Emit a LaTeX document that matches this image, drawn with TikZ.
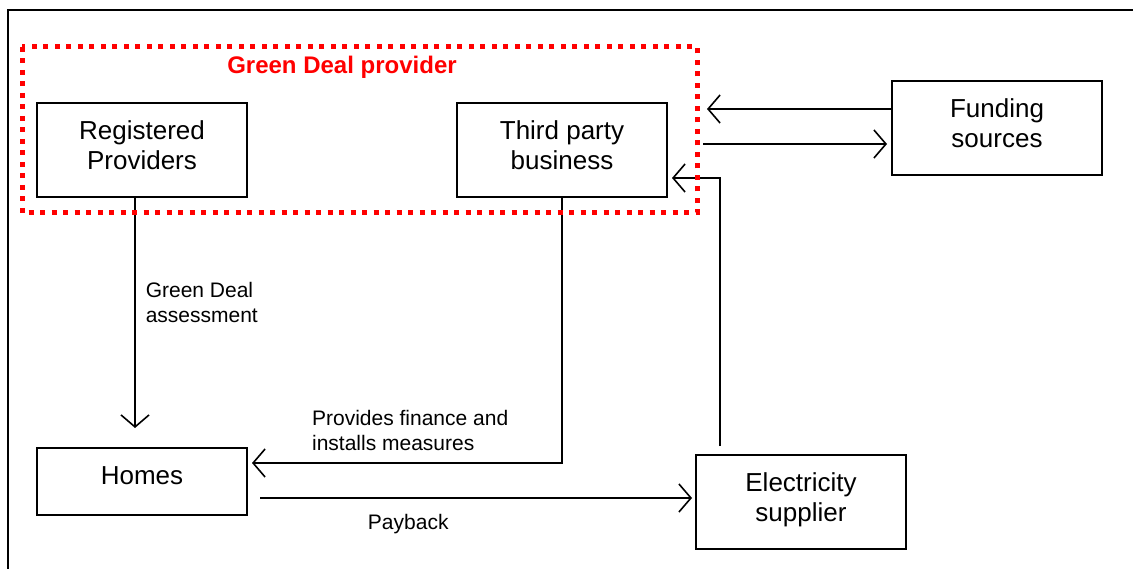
\documentclass[tikz,border=0pt]{standalone}
\usepackage{fontspec}
\setmainfont{Liberation Sans}
\usetikzlibrary{arrows.meta,positioning}
\definecolor{GDRed}{HTML}{FF0000}
\tikzset{
  party/.style={
    draw=black, line width=1.6pt, fill=white, outer sep=0pt,
    minimum width=210pt, minimum height=94pt, align=center,
    text height=49pt, text depth=10pt,
    font=\fontsize{26}{30}\selectfont
  },
  gdparea/.style={
    minimum width=675pt, minimum height=166pt, outer sep=0pt, inner sep=0pt
  },
  gdpline/.style={draw=GDRed, line width=5pt, dash pattern=on 5pt off 6.5pt},
  note/.style={font=\fontsize{21}{25}\selectfont, align=left, inner sep=0pt},
  flow/.style={-{Straight Barb[length=12pt, width=28pt]}, line width=1.6pt, draw=black}
}

\begin{document}
\begin{tikzpicture}[x=1pt, y=-1pt]
  \useasboundingbox (0,0) rectangle (1133,569);
  \draw[line width=1.6pt] (8,569) -- (8,10) -- (1133,10);
  % provider group and parties
  \node[gdparea] (gdp) at (359.5,130) {};
  \node[font=\fontsize{24}{28}\selectfont\bfseries, text=GDRed] (gdplabel) at (342,67) {Green Deal provider};
  \node[party] (reg) at (142,150) {Registered\\Providers};
  \node[party] (third) at (562,150) {Third party\\business};
  \node[party] (fund) at (997,128) {Funding\\sources};
  \node[party, minimum height=67pt, text height=19pt, text depth=14pt] (homes) at (142,481.5) {Homes};
  \node[party] (elec) at (801,502) {Electricity\\supplier};
  % flows
  \draw[flow, shorten >=20pt] ([xshift=-7pt]reg.south) -- ([xshift=-7pt]reg.south |- homes.north)
    node[note, pos=0.42, right=10pt] {Green Deal\\assessment};
  \draw[flow, shorten >=5pt] (third.south) |- ([yshift=18.5pt]homes.east)
    node[note, pos=0.741, above=11pt] {Provides finance and\\installs measures};
  \coordinate (payL) at ([xshift=13pt, yshift=-16.5pt]homes.east);
  \draw[flow, shorten >=4pt] (payL) -- (payL -| elec.west)
    node[note, pos=0.34, below=15pt] {Payback};
  \draw[flow, shorten <=9pt, shorten >=5pt] ([xshift=-81pt]elec.north) |- ([yshift=-28pt]third.east);
  \coordinate (fin) at ([yshift=19pt]fund.west);
  \coordinate (fout) at ([yshift=-16pt]fund.west);
  \draw[flow, shorten >=10pt] (fin) -- (fin -| gdp.east);
  \draw[flow, shorten <=6pt, shorten >=5pt] (fout -| gdp.east) -- (fout);
  % dotted border on top
  \draw[gdpline] (gdp.north west) rectangle (gdp.south east);
\end{tikzpicture}
\end{document}
